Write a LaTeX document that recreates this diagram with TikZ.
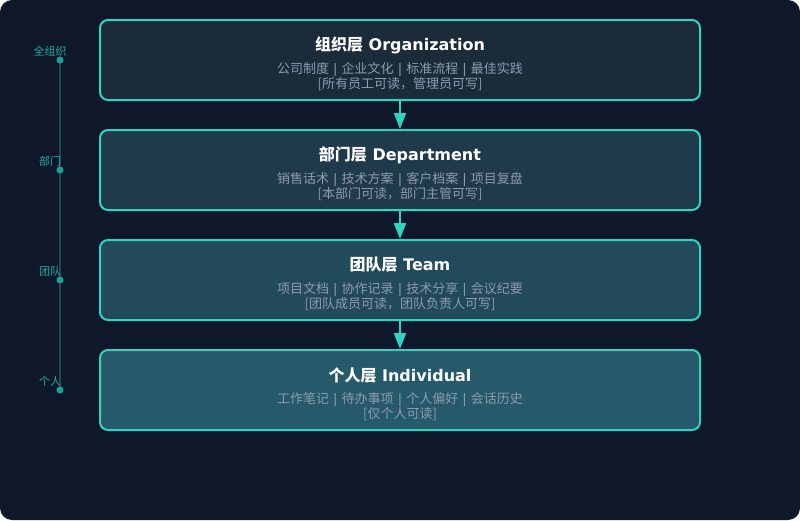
\documentclass[tikz,border=0pt]{standalone}
\usepackage{fontspec}
\setmainfont{DejaVu Sans}
\newfontfamily\cjk{Noto Sans CJK SC}
\usetikzlibrary{arrows.meta}

\definecolor{bgdark}{HTML}{0F172A}
\definecolor{teal}{HTML}{2DD4BF}
\definecolor{tealdot}{HTML}{14A394}
\definecolor{tealline}{HTML}{1E4A52}
\definecolor{graytext}{HTML}{8C9BB0}
\definecolor{orgfill}{HTML}{1C2B3A}
\definecolor{deptfill}{HTML}{1F3A4A}
\definecolor{teamfill}{HTML}{224A5A}
\definecolor{indfill}{HTML}{265A6A}

\newcommand{\sepbar}{{\rmfamily\ | }}

\tikzset{
  layer/.style={shape=rectangle, draw=teal, line width=2pt, rounded corners=8pt,
    minimum width=600pt, minimum height=80pt, inner sep=0pt},
  layertitle/.style={text=white, font=\fontsize{16}{19}\selectfont\bfseries},
  layertext/.style={text=graytext, align=center, font=\fontsize{13}{15}\selectfont\cjk},
  levellabel/.style={text=tealdot!80!teal, font=\fontsize{11}{13}\selectfont\cjk},
  leveldot/.style={shape=circle, fill=tealdot, inner sep=0pt, minimum size=7pt}
}

\begin{document}
\begin{tikzpicture}[x=1pt, y=-1pt]
\useasboundingbox (0,0) rectangle (800,520);
\fill [bgdark, rounded corners=12pt] (0,0) rectangle (800,520);

% layer boxes
\node (Org) at (400,60) [layer, fill=orgfill] {};
\node (Dept) at (400,170) [layer, fill=deptfill] {};
\node (Team) at (400,280) [layer, fill=teamfill] {};
\node (Ind) at (400,390) [layer, fill=indfill] {};

\node (Org title) at (400,45) [layertitle] {{\cjk 组织层} Organization};
\node (Org text) at (400,77) [layertext] {公司制度\sepbar 企业文化\sepbar 标准流程\sepbar 最佳实践\\\relax[所有员工可读，管理员可写]};

\node (Dept title) at (400,155) [layertitle] {{\cjk 部门层} Department};
\node (Dept text) at (400,187) [layertext] {销售话术\sepbar 技术方案\sepbar 客户档案\sepbar 项目复盘\\\relax[本部门可读，部门主管可写]};

\node (Team title) at (400,265) [layertitle] {{\cjk 团队层} Team};
\node (Team text) at (400,297) [layertext] {项目文档\sepbar 协作记录\sepbar 技术分享\sepbar 会议纪要\\\relax[团队成员可读，团队负责人可写]};

\node (Ind title) at (400,375) [layertitle] {{\cjk 个人层} Individual};
\node (Ind text) at (400,407) [layertext] {工作笔记\sepbar 待办事项\sepbar 个人偏好\sepbar 会话历史\\\relax[仅个人可读]};

\path [teal, line width=2pt, -{Triangle[width=12pt, length=16pt]}]
  (Org) edge (Dept)
  (Dept) edge (Team)
  (Team) edge (Ind);

% scope axis on the left
\draw [tealline, line width=2pt] (60,60) -- (60,390);
\node (Top) at (60,60) [leveldot] {};
\node (Mid1) at (60,170) [leveldot] {};
\node (Mid2) at (60,280) [leveldot] {};
\node (Bottom) at (60,390) [leveldot] {};

\node (Top label) at (50,51) [levellabel] {全组织};
\node (Mid1 label) at (50,161) [levellabel] {部门};
\node (Mid2 label) at (50,271) [levellabel] {团队};
\node (Bottom label) at (50,381) [levellabel] {个人};
\end{tikzpicture}
\end{document}
